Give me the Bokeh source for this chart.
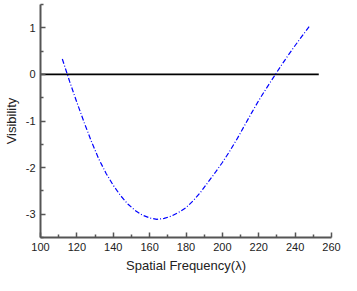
from bokeh.plotting import figure
from bokeh.embed import file_html
from bokeh.resources import INLINE
from bokeh.models import FixedTicker, Range1d

# Data
freq = [112, 116, 120, 124, 128, 132, 136, 140, 144, 148, 152, 156, 160, 164,
        168, 172, 176, 180, 184, 188, 192, 196, 200, 204, 208, 212, 216, 220,
        224, 228, 232, 236, 240, 244, 248]
visibility = [0.33, -0.15, -0.60, -1.03, -1.44, -1.81, -2.12, -2.38, -2.60, -2.78,
              -2.92, -3.02, -3.08, -3.11, -3.09, -3.04, -2.96, -2.86, -2.71, -2.53,
              -2.32, -2.11, -1.89, -1.65, -1.39, -1.11, -0.83, -0.56, -0.31, -0.07,
              0.17, 0.40, 0.62, 0.83, 1.04]
baseline_x = [100, 253]
baseline_y = [0, 0]

x_ticks = [100, 120, 140, 160, 180, 200, 220, 240, 260]
x_minor = [110, 130, 150, 170, 190, 210, 230, 250]
y_ticks = [-3, -2, -1, 0, 1]
y_minor = [-3.5, -2.5, -1.5, -0.5, 0.5, 1.5]

p = figure(width=341, height=275, output_backend="svg", toolbar_location=None,
           x_range=Range1d(100, 260), y_range=Range1d(-3.5, 1.5),
           min_border_left=30, min_border_right=10, min_border_top=4, min_border_bottom=4)
p.outline_line_color = None
p.xgrid.visible = False
p.ygrid.visible = False
p.background_fill_color = "white"
p.border_fill_color = "white"

p.line(baseline_x, baseline_y, line_color="black", line_width=1.6)
p.line(freq, visibility, line_color="#0000ff", line_width=1.2, line_dash="5 2 1 2")

p.xaxis.ticker = FixedTicker(ticks=x_ticks, minor_ticks=x_minor)
p.yaxis.ticker = FixedTicker(ticks=y_ticks, minor_ticks=y_minor)
p.yaxis.major_label_overrides = {t: str(t) for t in y_ticks}

for ax in (p.xaxis[0], p.yaxis[0]):
    ax.axis_line_color = "#555555"
    ax.axis_line_width = 2
    ax.major_tick_line_color = "#555555"
    ax.minor_tick_line_color = "#555555"
    ax.major_tick_line_width = 1.5
    ax.minor_tick_line_width = 1.5
    ax.major_tick_in = 5
    ax.major_tick_out = 0
    ax.minor_tick_in = 3
    ax.minor_tick_out = 0
    ax.major_label_text_font = "Liberation Sans"
    ax.major_label_text_font_size = "11px"
    ax.major_label_text_color = "#222222"
    ax.axis_label_text_font = "Liberation Sans"
    ax.axis_label_text_font_size = "13px"
    ax.axis_label_text_font_style = "normal"
    ax.axis_label_text_color = "#222222"
    ax.major_label_standoff = 5
    ax.axis_label_standoff = 4

p.xaxis.axis_label = "Spatial Frequency(λ)"
p.yaxis.axis_label = "Visibility"

open("out.html", "w").write(file_html(p, INLINE))
